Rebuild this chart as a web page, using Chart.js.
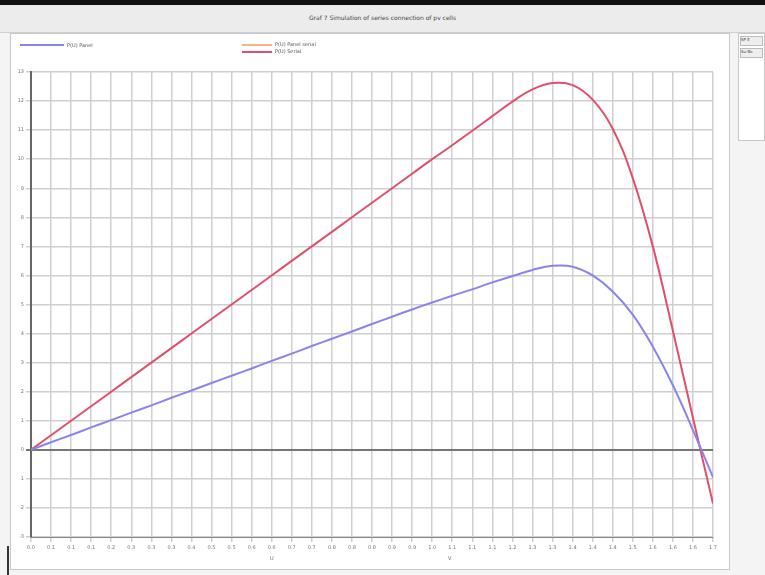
<!DOCTYPE html>
<html>
<head>
<meta charset="utf-8">
<script src="https://cdn.jsdelivr.net/npm/chart.js@4.4.1/dist/chart.umd.min.js"></script>
<style>
  body { margin: 0; width: 765px; height: 575px; background: #f4f4f4; overflow: hidden; font-family: "DejaVu Sans", sans-serif; position: relative; }
  #topbar { position: absolute; left: 0; top: 0; width: 765px; height: 5px; background: #111; }
  #titlebar { position: absolute; left: 0; top: 5px; width: 765px; height: 27px; background: #ececec; border-bottom: 1px solid #d0d0d0; }
  #titlebar span { position: absolute; left: 0; width: 765px; top: 9px; text-align: center; font-size: 6px; color: #444; }
  #panel { position: absolute; left: 10px; top: 33px; width: 720px; height: 537px; background: #fff; border: 1px solid #c8c8c8; box-sizing: border-box; }
  #side { position: absolute; left: 738px; top: 33px; width: 27px; height: 108px; background: #fff; border: 1px solid #c8c8c8; box-sizing: border-box; }
  #side div { margin: 2px 1px; height: 8px; background: #eee; border: 1px solid #bbb; font-size: 4px; color: #444; }
  #leftmark { position: absolute; left: 7px; top: 546px; width: 2px; height: 29px; background: #333; }
  .leg { position: absolute; font-size: 5px; color: #555; }
  .sw { position: absolute; height: 2px; }
  .axt { position: absolute; font-size: 5px; color: #666; }
</style>
</head>
<body>
<div id="topbar"></div>
<div id="titlebar"><span>Graf 7 Simulation of series connection of pv cells</span></div>
<div id="panel"><canvas id="pvChart" width="718" height="535"></canvas></div>
<div id="side"><div>SP E</div><div>Su-Bo</div></div>
<div id="leftmark"></div>

<div class="sw" style="left:20px;top:44px;width:44px;background:#8a84ec;"></div>
<div class="leg" style="left:67px;top:42px;">P(U) Panel</div>
<div class="sw" style="left:242px;top:44px;width:30px;background:#f6b48a;"></div>
<div class="leg" style="left:275px;top:41px;">P(U) Panel serial</div>
<div class="sw" style="left:242px;top:51px;width:30px;background:#e0506c;"></div>
<div class="leg" style="left:275px;top:48px;">P(U) Serial</div>
<div class="axt" style="left:270px;top:555px;">U</div>
<div class="axt" style="left:448px;top:555px;">V</div>

<script>
// ==================== DATA ====================
const voltage = [0.00, 0.05, 0.10, 0.15, 0.20, 0.25, 0.30, 0.35, 0.40, 0.45,
                 0.50, 0.55, 0.60, 0.65, 0.70, 0.75, 0.80, 0.85, 0.90, 0.95,
                 1.00, 1.05, 1.10, 1.15, 1.20, 1.25, 1.30, 1.35, 1.40, 1.45,
                 1.50, 1.55, 1.60, 1.65, 1.70];

const powerPanel = [0.00, 0.26, 0.51, 0.77, 1.02, 1.28, 1.53, 1.79, 2.04, 2.30,
                    2.55, 2.80, 3.06, 3.31, 3.57, 3.82, 4.07, 4.33, 4.58, 4.83,
                    5.07, 5.30, 5.52, 5.76, 5.98, 6.19, 6.33, 6.30, 6.00, 5.45,
                    4.65, 3.55, 2.22, 0.68, -0.95];

const powerSerial = [0.00, 0.50, 1.00, 1.50, 2.00, 2.50, 3.00, 3.50, 4.00, 4.50,
                     5.00, 5.50, 6.00, 6.50, 7.00, 7.50, 8.00, 8.50, 9.00, 9.50,
                     10.00, 10.48, 10.98, 11.48, 11.98, 12.40, 12.62, 12.55, 12.05, 11.05,
                     9.35, 7.00, 4.10, 1.10, -1.85];

const yTicks = [-3, -2, -1, 0, 1, 2, 3, 4, 5, 6, 7, 8, 9, 10, 11, 12, 13];

// ==================== CHART ====================
function toPoints(xs, ys) {
    return xs.map((x, i) => ({ x: x, y: ys[i] }));
}

const ctx = document.getElementById("pvChart").getContext("2d");

new Chart(ctx, {
    type: 'line',
    data: {
        datasets: [
            {
                label: 'P(U) Panel',
                data: toPoints(voltage, powerPanel),
                borderColor: '#8a84ec',
                borderWidth: 2,
                pointRadius: 0,
                tension: 0.4
            },
            {
                label: 'P(U) Panel serial',
                data: [],
                borderColor: '#f6b48a',
                borderWidth: 2,
                pointRadius: 0
            },
            {
                label: 'P(U) Serial',
                data: toPoints(voltage, powerSerial),
                borderColor: '#e0506c',
                borderWidth: 2,
                pointRadius: 0,
                tension: 0.4
            }
        ]
    },
    options: {
        responsive: false,
        animation: false,
        layout: { padding: { top: 38, right: 16, left: 0, bottom: 0 } },
        plugins: {
            legend: { display: false },
            tooltip: { enabled: false }
        },
        scales: {
            x: {
                type: 'linear',
                min: 0,
                max: 1.7,
                afterFit: (scale) => { scale.height = 32; },
                afterBuildTicks: (scale) => {
                    scale.ticks = voltage.map(v => ({ value: v }));
                },
                ticks: {
                    autoSkip: false,
                    maxRotation: 0,
                    font: { size: 5, family: 'DejaVu Sans' },
                    color: '#777',
                    callback: (v) => Number(v).toFixed(1)
                },
                grid: { color: '#cfcfcf', lineWidth: 1.5, tickLength: 5 },
                border: { color: '#888', width: 1 }
            },
            y: {
                min: -3,
                max: 13,
                afterFit: (scale) => { scale.width = 20; },
                afterBuildTicks: (scale) => {
                    scale.ticks = yTicks.map(v => ({ value: v }));
                },
                ticks: {
                    font: { size: 5, family: 'DejaVu Sans' },
                    color: '#777',
                    padding: 2
                },
                grid: {
                    color: (c) => (c.tick && c.tick.value === 0) ? '#777' : '#cfcfcf',
                    lineWidth: (c) => (c.tick && c.tick.value === 0) ? 2 : 1.5,
                    tickLength: 5
                },
                border: { color: '#666', width: 2 }
            }
        }
    }
});
</script>
</body>
</html>
